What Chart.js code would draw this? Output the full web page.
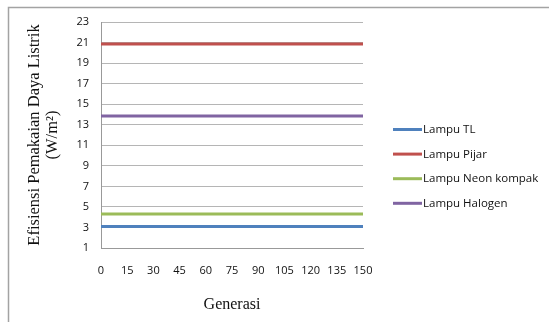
<!DOCTYPE html>
<html>
<head>
<meta charset="utf-8">
<script src="https://cdn.jsdelivr.net/npm/chart.js@4/dist/chart.umd.min.js"></script>
<style>
  html, body { margin: 0; padding: 0; background: #ffffff; }
  #wrap { width: 549px; height: 322px; position: relative; }
</style>
</head>
<body>
<div id="wrap"><canvas id="c" width="549" height="322"></canvas></div>
<script>
// Generations shown on the horizontal axis
const generasi = [0, 15, 30, 45, 60, 75, 90, 105, 120, 135, 150];

// Power-use efficiency per lamp type (W/m²)
const lampuTL      = [3.1, 3.1, 3.1, 3.1, 3.1, 3.1, 3.1, 3.1, 3.1, 3.1, 3.1];
const lampuPijar   = [20.85, 20.85, 20.85, 20.85, 20.85, 20.85, 20.85, 20.85, 20.85, 20.85, 20.85];
const lampuNeon    = [4.3, 4.3, 4.3, 4.3, 4.3, 4.3, 4.3, 4.3, 4.3, 4.3, 4.3];
const lampuHalogen = [13.85, 13.85, 13.85, 13.85, 13.85, 13.85, 13.85, 13.85, 13.85, 13.85, 13.85];

const seriesNames = ['Lampu TL', 'Lampu Pijar', 'Lampu Neon kompak', 'Lampu Halogen'];
const seriesColors = ['#4f81bd', '#c0504d', '#9bbb59', '#8064a2'];

const PLOT_LEFT = 101, PLOT_RIGHT = 363, PLOT_TOP = 22, PLOT_BOTTOM = 248;
const W = 549, H = 322;
const PAD_LEFT = 18, PAD_BOTTOM = 8;

// Outer frame (only top and left edges are visible in the window)
const framePlugin = {
  id: 'frame',
  beforeDraw(chart) {
    const ctx = chart.ctx;
    ctx.save();
    ctx.fillStyle = '#ffffff';
    ctx.fillRect(0, 0, chart.width, chart.height);
    ctx.strokeStyle = '#a3a3a3';
    ctx.lineWidth = 1.5;
    ctx.beginPath();
    ctx.moveTo(8.5, chart.height);
    ctx.lineTo(8.5, 7.5);
    ctx.lineTo(chart.width, 7.5);
    ctx.stroke();
    ctx.restore();
  }
};

// Legend drawn beside the plot, one line swatch per series
const sideLegend = {
  id: 'sideLegend',
  afterDraw(chart) {
    const ctx = chart.ctx;
    const area = chart.chartArea;
    const x0 = area.right + 30;
    const yStart = 129.5;
    const step = 24.6;
    ctx.save();
    ctx.font = '11.5px "Open Sans"';
    ctx.textBaseline = 'middle';
    ctx.textAlign = 'left';
    chart.data.datasets.forEach((ds, i) => {
      const y = yStart + i * step;
      ctx.strokeStyle = ds.borderColor;
      ctx.lineWidth = 3;
      ctx.beginPath();
      ctx.moveTo(x0, y);
      ctx.lineTo(x0 + 29, y);
      ctx.stroke();
      ctx.fillStyle = '#111111';
      ctx.fillText(ds.label, x0 + 30, y + 0.5);
    });
    ctx.restore();
  }
};

const values = [lampuTL, lampuPijar, lampuNeon, lampuHalogen];

new Chart(document.getElementById('c'), {
  type: 'line',
  data: {
    labels: generasi,
    datasets: values.map((v, i) => ({
      label: seriesNames[i],
      data: v,
      borderColor: seriesColors[i],
      backgroundColor: seriesColors[i],
      borderWidth: 3,
      pointRadius: 0,
      fill: false,
      tension: 0
    }))
  },
  options: {
    responsive: false,
    animation: false,
    devicePixelRatio: 1,
    layout: {
      padding: { left: PAD_LEFT, top: PLOT_TOP, right: W - PLOT_RIGHT, bottom: PAD_BOTTOM }
    },
    plugins: {
      legend: { display: false },
      tooltip: { enabled: false }
    },
    scales: {
      x: {
        type: 'category',
        offset: false,
        grid: { display: false, drawTicks: false },
        border: { display: true, color: '#999999', width: 1 },
        ticks: {
          color: '#111111',
          font: { family: 'Open Sans', size: 11 },
          padding: 16,
          maxRotation: 0,
          autoSkip: false
        },
        title: {
          display: true,
          text: 'Generasi',
          color: '#111111',
          font: { family: 'Liberation Serif', size: 16 },
          padding: { top: 5, bottom: 0 }
        },
        afterFit(scale) { scale.height = H - PAD_BOTTOM - PLOT_BOTTOM; }
      },
      y: {
        min: 1,
        max: 23,
        ticks: {
          stepSize: 2,
          color: '#111111',
          font: { family: 'Open Sans', size: 11 },
          padding: 12
        },
        grid: { color: '#b5b5b5', lineWidth: 1, drawTicks: false },
        border: { display: true, color: '#999999', width: 1 },
        title: {
          display: true,
          text: ['Efisiensi Pemakaian Daya Listrik', '(W/m²)'],
          color: '#111111',
          font: { family: 'Liberation Serif', size: 16.5, lineHeight: 1.08 },
          padding: { top: 8, bottom: 0 }
        },
        afterFit(scale) { scale.width = PLOT_LEFT - PAD_LEFT; }
      }
    }
  },
  plugins: [framePlugin, sideLegend]
});
</script>
</body>
</html>
